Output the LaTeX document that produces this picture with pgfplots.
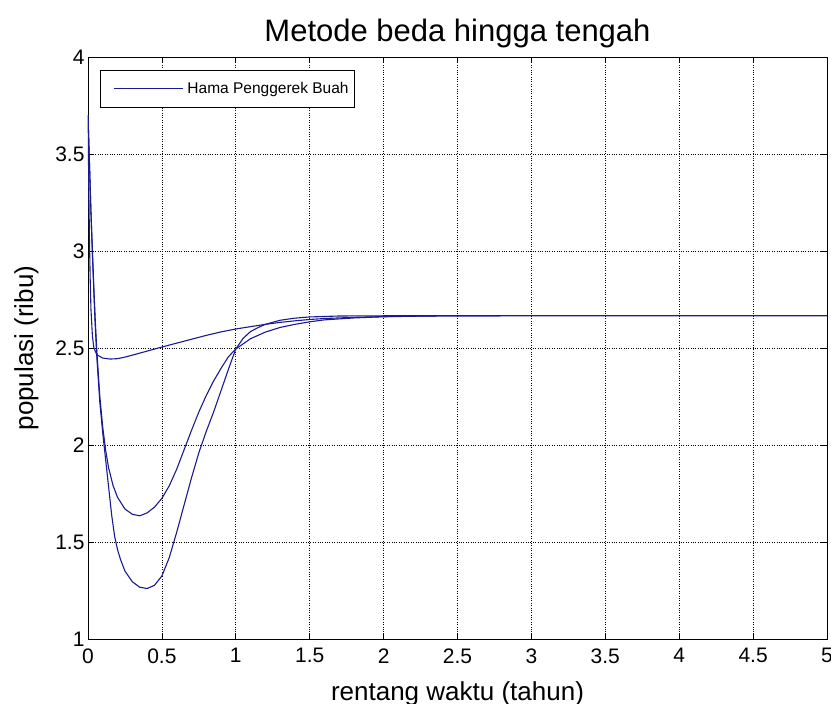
\documentclass[border=0pt]{standalone}
\usepackage{pgfplots}
\pgfplotsset{compat=1.18}
\usepackage{fontspec}
\setmainfont{Liberation Sans}
\definecolor{mblue}{RGB}{25,25,145}
\begin{document}
\begin{tikzpicture}
\useasboundingbox (-88bp,-65bp) rectangle (743bp,639bp);
\begin{axis}[
  scale only axis,
  width=739bp, height=582bp,
  xmin=0, xmax=5, ymin=1, ymax=4,
  xtick={0,0.5,...,5}, ytick={1,1.5,...,4},
  /pgf/number format/assume math mode=true,
  tick label style={font=\fontsize{21bp}{24bp}\selectfont},
  xticklabel style={yshift=-6bp},
  grid=major,
  major grid style={black, dotted, line width=0.8pt},
  tick align=inside,
  major tick length=6bp,
  axis line style={black, line width=0.7pt},
  tick style={black, line width=0.7pt},
  title={Metode beda hingga tengah},
  title style={font=\fontsize{31bp}{35bp}\selectfont, yshift=0bp},
  xlabel={rentang waktu (tahun)},
  ylabel={populasi (ribu)},
  label style={font=\fontsize{26bp}{29bp}\selectfont},
  xlabel style={yshift=-11bp},
  ylabel style={yshift=10bp},
  legend cell align=left,
  legend style={at={(0.0163,0.978)}, anchor=north west, draw=black, line width=0.7pt,
    font=\fontsize{15.5bp}{18bp}\selectfont, inner xsep=4bp, inner ysep=10bp},
  legend image code/.code={\path (0bp,0bp) (80bp,0bp); \draw[#1] (9bp,0bp) -- (78bp,0bp);},
]
\addplot[mblue, line width=1.1pt] coordinates {
(0,3.7) (0.005,3.35) (0.01,3.05) (0.015,2.85) (0.02,2.7) (0.03,2.56) (0.04,2.5) (0.06,2.465)
(0.1,2.448) (0.15,2.443) (0.2,2.445) (0.25,2.453) (0.3,2.463) (0.4,2.484) (0.5,2.505)
(0.6,2.525) (0.7,2.545) (0.8,2.565) (0.9,2.583) (1.0,2.598) (1.1,2.61) (1.2,2.622)
(1.3,2.632) (1.4,2.64) (1.5,2.647) (1.6,2.652) (1.8,2.658) (2.0,2.662) (2.3,2.665)
(2.6,2.666) (3,2.667) (5,2.667)
};
\addlegendentry{Hama Penggerek Buah}
\addplot[mblue, line width=1.1pt] coordinates {
(0,3.7) (0.01,3.45) (0.02,3.2) (0.03,3.0) (0.04,2.8) (0.05,2.63) (0.06,2.48) (0.08,2.25)
(0.1,2.09) (0.12,1.97) (0.14,1.88) (0.17,1.79) (0.2,1.73) (0.25,1.67) (0.3,1.643)
(0.35,1.635) (0.4,1.65) (0.45,1.68) (0.5,1.725) (0.55,1.79) (0.6,1.875) (0.65,1.975)
(0.7,2.075) (0.75,2.17) (0.8,2.255) (0.85,2.33) (0.9,2.395) (0.95,2.455) (1.0,2.495)
(1.1,2.548) (1.2,2.582) (1.3,2.606) (1.4,2.622) (1.5,2.635) (1.6,2.645) (1.8,2.655)
(2.0,2.661) (2.3,2.665) (2.6,2.666) (3,2.667) (5,2.667)
};
\addplot[mblue, line width=1.1pt] coordinates {
(0,3.7) (0.01,3.45) (0.02,3.2) (0.03,2.98) (0.04,2.78) (0.05,2.6) (0.06,2.45) (0.08,2.22)
(0.1,2.06) (0.12,1.92) (0.14,1.78) (0.16,1.64) (0.18,1.53) (0.2,1.46) (0.22,1.41)
(0.25,1.35) (0.3,1.295) (0.35,1.267) (0.4,1.26) (0.45,1.277) (0.5,1.325) (0.55,1.42)
(0.6,1.55) (0.65,1.69) (0.7,1.83) (0.75,1.96) (0.8,2.07) (0.85,2.17) (0.9,2.28)
(0.95,2.39) (1.0,2.495) (1.05,2.55) (1.1,2.585) (1.15,2.605) (1.2,2.622) (1.3,2.643)
(1.4,2.654) (1.5,2.66) (1.7,2.665) (2,2.666) (2.5,2.667) (5,2.667)
};
\end{axis}
\end{tikzpicture}
\end{document}
